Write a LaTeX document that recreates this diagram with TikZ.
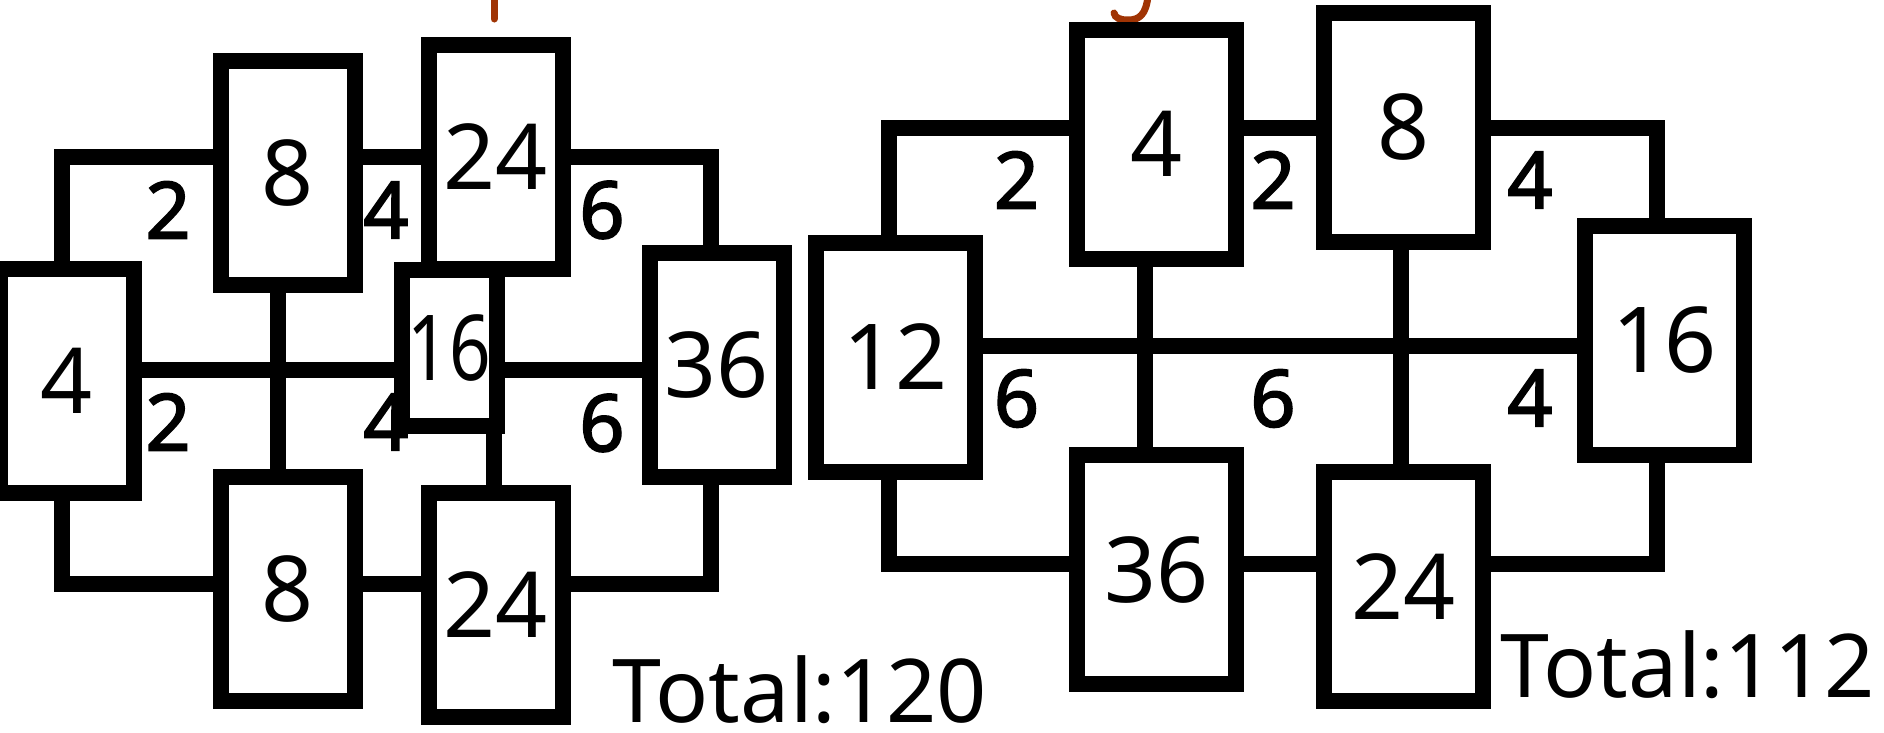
\documentclass[tikz,border=0pt]{standalone}
\usepackage{fontspec}
\usepackage{graphicx}
\setmainfont{Noto Sans}
\newfontfamily\lbfam{Noto Sans}[FakeBold=2.2]
\usetikzlibrary{backgrounds}
\definecolor{titlered}{RGB}{160,52,4}
\newcommand\bxfont{\fontsize{91}{91}\selectfont}
\newcommand\lbfont{\lbfam\fontsize{79}{79}\selectfont}
\newcommand\ttlfont{\fontsize{88}{88}\selectfont}
\tikzset{
  box/.style={draw, line width=16pt, fill=white, inner sep=0pt, font=\bxfont},
  lbox/.style={box, minimum width=134pt, minimum height=224pt},
  rbox/.style={box, minimum width=159pt, minimum height=229pt},
  wire/.style={draw, line width=16pt, line join=miter, line cap=butt},
  lab/.style={inner sep=0pt, font=\lbfont},
  total/.style={inner sep=0pt, anchor=base, font=\ttlfont},
  frag/.style={draw=titlered, line width=7pt, line cap=round}
}
\begin{document}
\begin{tikzpicture}[x=1pt, y=-1pt]
\useasboundingbox (0,0) rectangle (1884,732);
% cut-off title fragments
\draw[frag] (494,-4) -- (494,19);
\draw[frag] (1148,-4) .. controls (1146,14) and (1140,20) .. (1128,20) .. controls (1120,20) and (1115,18) .. (1114,13);

% ---------- left diagram ----------
\node[lab] (l2a) at (168,210) {2};
\node[lab] (l4a) at (386,210) {4};
\node[lab] (l6a) at (602,210) {6};
\node[lab] (l2b) at (168,422) {2};
\node[lab] (l4b) at (386,422) {4};
\node[lab] (l6b) at (602,423) {6};

\node[lbox] (C) at (66.8,381) {4};
\node[lbox] (A) at (288,173) {8};
\node[lbox] (B) at (495.75,157) {24};
\node[box, minimum width=95.5pt, minimum height=156pt] (E) at (449.25,348) {\scalebox{0.8}[1]{16}};
\node[lbox] (D) at (716.8,365) {36};
\node[lbox] (F) at (288,589) {8};
\node[lbox] (G) at (495.75,605) {24};

\coordinate (c1) at (61.5,157);
\coordinate (c2) at (711,157);
\coordinate (c3) at (61.5,583.5);
\coordinate (c4) at (711,583.5);
\coordinate (m1) at (0,370);
\coordinate (v1) at (277.5,0);
\coordinate (v2) at (494,0);

% ---------- right diagram ----------
\node[lab] (r2a) at (1016.5,180) {2};
\node[lab] (r2b) at (1273,180) {2};
\node[lab] (r4a) at (1530,180) {4};
\node[lab] (r6a) at (1016.5,398.5) {6};
\node[lab] (r6b) at (1273,398.5) {6};
\node[lab] (r4b) at (1530,398) {4};

\node[rbox] (H) at (895.5,357) {12};
\node[rbox] (I) at (1156.8,144) {4};
\node[rbox] (J) at (1403.35,127.5) {8};
\node[rbox] (K) at (1664.5,340.5) {16};
\node[rbox] (L) at (1156.8,569.5) {36};
\node[rbox] (M) at (1403.35,586.2) {24};

\coordinate (r1) at (888.5,127.5);
\coordinate (r2) at (1657,127.5);
\coordinate (r3) at (888.5,564);
\coordinate (r4) at (1657,564);
\coordinate (rm) at (0,346);
\coordinate (rv1) at (1145,0);
\coordinate (rv2) at (1401,0);

\begin{pgfonlayer}{background}
  % left connectors
  \path[wire] (C.north -| c1) -- (c1) -- (A.west |- c1);
  \path[wire] (A.east |- c1) -- (B.west |- c1);
  \path[wire] (B.east |- c2) -- (c2) -- (D.north -| c2);
  \path[wire] (C.east |- m1) -- (D.west |- m1);
  \path[wire] (A.south -| v1) -- (F.north -| v1);
  \path[wire] (E.south -| v2) -- (G.north -| v2);
  \path[wire] (C.south -| c3) -- (c3) -- (F.west |- c3);
  \path[wire] (F.east |- c3) -- (G.west |- c3);
  \path[wire] (G.east |- c4) -- (c4) -- (D.south -| c4);
  % right connectors
  \path[wire] (H.north -| r1) -- (r1) -- (I.west |- r1);
  \path[wire] (I.east |- r1) -- (J.west |- r1);
  \path[wire] (J.east |- r2) -- (r2) -- (K.north -| r2);
  \path[wire] (H.east |- rm) -- (K.west |- rm);
  \path[wire] (I.south -| rv1) -- (L.north -| rv1);
  \path[wire] (J.south -| rv2) -- (M.north -| rv2);
  \path[wire] (H.south -| r3) -- (r3) -- (L.west |- r3);
  \path[wire] (L.east |- r3) -- (M.west |- r3);
  \path[wire] (M.east |- r4) -- (r4) -- (K.south -| r4);
\end{pgfonlayer}

\node[total] (t1) at (800,722) {Total:120};
\node[total] (t2) at (1688,697) {Total:112};
\end{tikzpicture}
\end{document}
